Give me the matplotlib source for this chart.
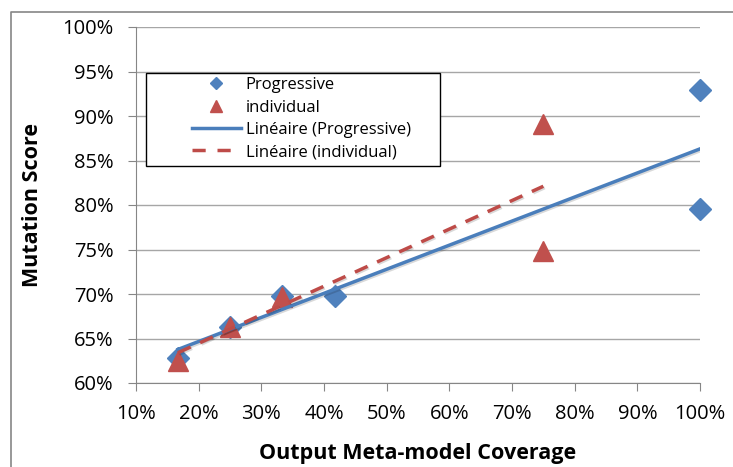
import numpy as np
import matplotlib
matplotlib.use("Agg")
import matplotlib.pyplot as plt
from matplotlib.ticker import FuncFormatter, MultipleLocator
from matplotlib.lines import Line2D
from matplotlib.patches import Rectangle
import matplotlib.patheffects as pe

prog_x = [16.7, 25.0, 33.3, 41.7, 100.0, 100.0]
prog_y = [62.8, 66.3, 69.8, 69.8, 92.9, 79.6]
ind_x = [16.7, 25.0, 33.3, 75.0, 75.0]
ind_y = [62.5, 66.3, 69.7, 89.1, 74.8]

blue = "#4F81BD"
red = "#C0504D"

plt.rcParams['font.family'] = ['Open Sans', 'DejaVu Sans']

W, H = 733, 467
fig = plt.figure(figsize=(W/100, H/100), dpi=100)
ax = fig.add_axes([136/W, 1-383/H, (700-136)/W, (383-27)/H])

ax.set_xlim(10, 100)
ax.set_ylim(60, 100)
ax.xaxis.set_major_locator(MultipleLocator(10))
ax.yaxis.set_major_locator(MultipleLocator(5))
fmt = FuncFormatter(lambda v, p: f"{v:.0f}%")
ax.xaxis.set_major_formatter(fmt)
ax.yaxis.set_major_formatter(fmt)
ax.grid(axis='y', color='#A6A6A6', linewidth=1)
ax.set_axisbelow(True)
for s in ['top', 'right']:
    ax.spines[s].set_visible(False)
for s in ['left', 'bottom']:
    ax.spines[s].set_color('#868686')
ax.tick_params(axis='both', colors='#868686', labelcolor='black', labelsize=14.5, length=6)
ax.tick_params(axis='x', pad=9)
ax.tick_params(axis='y', pad=10)

shadow = [pe.SimpleLineShadow(offset=(1.0, -1.0), alpha=0.15), pe.Normal()]

ax.plot(prog_x, prog_y, 'D', color=blue, markersize=11, label='Progressive', zorder=4, clip_on=False)
ax.plot(ind_x, ind_y, '^', color=red, markersize=14, label='individual', zorder=5, clip_on=False)

pa, pb = np.polyfit(prog_x, prog_y, 1)
xs = np.array([min(prog_x), max(prog_x)])
ax.plot(xs, pa*xs + pb, '-', color='#4A7EBB', linewidth=2.5, label='Linéaire (Progressive)', zorder=6, path_effects=shadow)

ia, ib = np.polyfit(ind_x, ind_y, 1)
xs2 = np.array([min(ind_x), max(ind_x)])
ax.plot(xs2, ia*xs2 + ib, '--', color='#BE4B48', linewidth=2.5, dashes=(4, 3), label='Linéaire (individual)', zorder=6, path_effects=shadow)

ax.set_xlabel('Output Meta-model Coverage', fontsize=15.5, fontweight='bold', labelpad=14)
ax.set_ylabel('Mutation Score', fontsize=15.5, fontweight='bold', labelpad=14)

# legend frame drawn separately (Excel-style, wide box)
AW, AH = 564, 356
fx0 = (146-136)/AW
fx1 = (440-136)/AW
fy1 = (383-73)/AH
fy0 = (383-166)/AH
ax.add_patch(Rectangle((fx0, fy0), fx1-fx0, fy1-fy0, transform=ax.transAxes,
                       facecolor='white', edgecolor='black', linewidth=1, zorder=9, clip_on=False))
leg = ax.legend(loc='upper left', bbox_to_anchor=((188-136)/AW, (383-73)/AH),
                fontsize=12, frameon=False,
                handlelength=2.9, borderpad=0.25, labelspacing=0.38, handletextpad=0.3,
                borderaxespad=0, markerscale=0.6)
leg.set_zorder(10)
for h in leg.get_lines():
    h.set_path_effects([])
leg.get_lines()[3].set_dashes((3.8, 3.4))

# chart-area border (left and top edges visible in the crop)
fig.add_artist(Line2D([10.5/W, 10.5/W, 1.0], [0.0, 1-11.5/H, 1-11.5/H],
                      transform=fig.transFigure, color='#868686', linewidth=1.2))

fig.savefig('out.png', dpi=100)
